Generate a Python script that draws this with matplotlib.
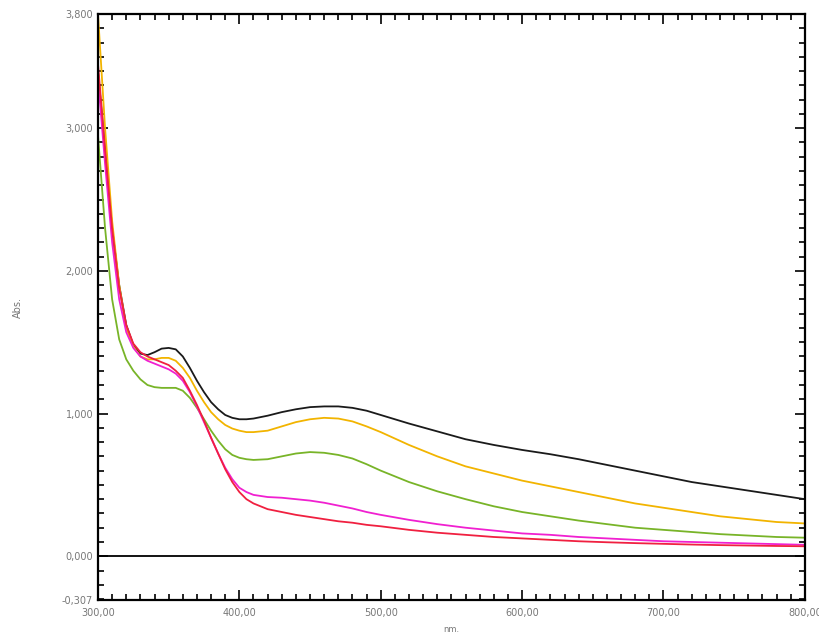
import numpy as np
import matplotlib
matplotlib.use("Agg")
import matplotlib.pyplot as plt
from matplotlib.ticker import MultipleLocator

# wavelengths (nm) shared by all spectra
wl = [300, 305, 310, 315, 320, 325, 330, 335, 340, 345, 350, 355, 360, 365, 370,
      375, 380, 385, 390, 395, 400, 405, 410, 420, 430, 440, 450, 460, 470, 480,
      490, 500, 520, 540, 560, 580, 600, 620, 640, 660, 680, 700, 720, 740, 760,
      780, 800]

abs_black = [3.40, 2.85, 2.30, 1.90, 1.62, 1.48, 1.42, 1.41, 1.43, 1.455, 1.46, 1.45, 1.40, 1.32, 1.23,
             1.15, 1.08, 1.03, 0.99, 0.97, 0.96, 0.96, 0.965, 0.985, 1.01, 1.03, 1.045, 1.05, 1.05, 1.04,
             1.02, 0.99, 0.93, 0.875, 0.82, 0.78, 0.745, 0.715, 0.68, 0.64, 0.60, 0.56, 0.52, 0.49, 0.46,
             0.43, 0.40]
abs_orange = [3.80, 3.00, 2.35, 1.90, 1.60, 1.47, 1.40, 1.38, 1.38, 1.39, 1.39, 1.37, 1.32, 1.25, 1.16,
              1.08, 1.01, 0.96, 0.92, 0.895, 0.88, 0.87, 0.87, 0.88, 0.91, 0.94, 0.96, 0.97, 0.965, 0.945,
              0.91, 0.87, 0.78, 0.70, 0.63, 0.58, 0.53, 0.49, 0.45, 0.41, 0.37, 0.34, 0.31, 0.28, 0.26,
              0.24, 0.23]
abs_green = [2.95, 2.30, 1.80, 1.52, 1.38, 1.30, 1.24, 1.20, 1.185, 1.18, 1.18, 1.18, 1.16, 1.11, 1.04,
             0.96, 0.88, 0.81, 0.75, 0.71, 0.69, 0.68, 0.675, 0.68, 0.70, 0.72, 0.73, 0.725, 0.71, 0.685,
             0.645, 0.60, 0.52, 0.455, 0.40, 0.35, 0.31, 0.28, 0.25, 0.225, 0.20, 0.185, 0.17, 0.155, 0.145,
             0.135, 0.13]
abs_magenta = [3.35, 2.75, 2.20, 1.80, 1.57, 1.46, 1.40, 1.37, 1.35, 1.33, 1.31, 1.28, 1.23, 1.15, 1.05,
               0.94, 0.83, 0.72, 0.62, 0.54, 0.48, 0.45, 0.43, 0.415, 0.41, 0.40, 0.39, 0.375, 0.355, 0.335,
               0.31, 0.29, 0.255, 0.225, 0.20, 0.18, 0.16, 0.15, 0.135, 0.125, 0.115, 0.105, 0.10, 0.095, 0.09,
               0.085, 0.08]
abs_red = [3.45, 2.85, 2.30, 1.88, 1.62, 1.49, 1.43, 1.40, 1.38, 1.36, 1.34, 1.30, 1.25, 1.16, 1.06,
           0.95, 0.83, 0.72, 0.61, 0.52, 0.45, 0.40, 0.37, 0.33, 0.31, 0.29, 0.275, 0.26, 0.245, 0.235,
           0.22, 0.21, 0.185, 0.165, 0.15, 0.135, 0.125, 0.115, 0.105, 0.098, 0.092, 0.087, 0.082, 0.078, 0.075,
           0.072, 0.07]

y_ticks = [-0.307, 0, 1, 2, 3, 3.8]
y_labels = ["-0,307", "0,000", "1,000", "2,000", "3,000", "3,800"]
x_ticks = [300, 400, 500, 600, 700, 800]
x_labels = ["300,00", "400,00", "500,00", "600,00", "700,00", "800,00"]

fig = plt.figure(figsize=(8.2, 6.37), dpi=100)
ax = fig.add_axes([0.1195, 0.058, 0.862, 0.92])

ax.axhline(0, color="black", lw=1.3, zorder=1)

ax.plot(wl, abs_black, color="#1a1a1a", lw=1.3)
ax.plot(wl, abs_orange, color="#f2b400", lw=1.3)
ax.plot(wl, abs_green, color="#78b428", lw=1.3)
ax.plot(wl, abs_magenta, color="#f020d0", lw=1.3)
ax.plot(wl, abs_red, color="#f02040", lw=1.3)

ax.set_xlim(300, 800)
ax.set_ylim(-0.307, 3.8)

ax.set_xticks(x_ticks)
ax.set_xticklabels(x_labels)
ax.set_yticks(y_ticks)
ax.set_yticklabels(y_labels)
ax.xaxis.set_minor_locator(MultipleLocator(10))
ax.yaxis.set_minor_locator(MultipleLocator(0.1))

ax.tick_params(which="both", direction="in", top=True, right=True,
               colors="black", labelcolor="#777777", labelsize=7, width=1.2)
ax.tick_params(which="major", length=7)
ax.tick_params(which="minor", length=4)
ax.tick_params(axis="x", pad=6)

for s in ax.spines.values():
    s.set_linewidth(1.6)

ax.set_ylabel("Abs.", fontsize=7, color="#777777", labelpad=28)
ax.set_xlabel("nm.", fontsize=6, color="#777777", labelpad=5)

fig.savefig("out.png", dpi=100)
